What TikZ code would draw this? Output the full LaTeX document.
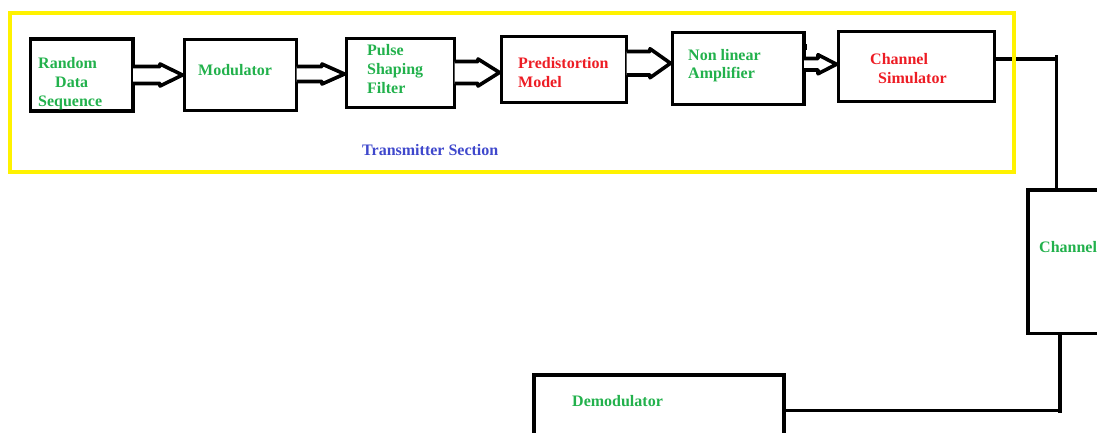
\documentclass[tikz,border=0pt]{standalone}
\usepackage{fontspec}
\setmainfont{Liberation Serif}
\usetikzlibrary{calc}
\definecolor{pgreen}{HTML}{22B14C}
\definecolor{pred}{HTML}{ED1C24}
\definecolor{pblue}{HTML}{3F48CC}
\definecolor{pyellow}{HTML}{FFF200}
\tikzset{
  blk/.style={draw=black, line width=3.6pt, inner sep=0pt, outer sep=0pt},
  lbl/.style={inner sep=0pt, anchor=base west, font=\fontsize{16}{19}\selectfont\bfseries},
  farrow/.style={draw=black, line width=3.6pt, line join=round, fill=white},
  wire/.style={draw=black, line width=3.6pt},
  frame/.style={draw=pyellow, line width=4pt}
}
% #1 from node, #2 to node, #3 centre y, #4 shaft half height, #5 head half height, #6 head base x
\newcommand{\fatarrow}[6]{%
  \draw[farrow] let \p1=(#1.east), \p2=(#2.west) in
    (\x1,{-(#3)+(#4)}) -- (#6,{-(#3)+(#4)}) -- (#6,{-(#3)+(#5)})
    -- (\x2-2pt,{-(#3)}) -- (#6,{-(#3)-(#5)}) -- (#6,{-(#3)-(#4)}) -- (\x1,{-(#3)-(#4)});}
\begin{document}
\begin{tikzpicture}[x=1pt,y=1pt]
\useasboundingbox (0,0) rectangle (1097,-432);
\clip (0,0) rectangle (1097,-432);

% blocks
\node[blk, minimum width=102.5pt, minimum height=72pt] (rds) at (81.75,-75) {};
\node[blk, minimum width=112pt, minimum height=71pt] (mod) at (240.5,-75) {};
\node[blk, minimum width=108pt, minimum height=69pt] (psf) at (400.5,-73) {};
\node[blk, minimum width=125pt, minimum height=66pt] (pdm) at (564,-69.5) {};
\node[blk, minimum width=131.5pt, minimum height=72pt] (nla) at (738.25,-68.5) {};
\node[blk, minimum width=156pt, minimum height=70pt] (chs) at (916.5,-66.5) {};
\node[blk, minimum width=112pt, minimum height=143.5pt] (ch) at (1084,-261.75) {};
\node[blk, minimum width=250pt, minimum height=95pt] (dem) at (659,-422.5) {};

% small stray stroke at the amplifier's corner
\draw[line width=2pt] (806,-44) -- (806,-50);

% labels
\node[lbl, text=pgreen] (t1a) at (38,-68) {Random};
\node[lbl, text=pgreen] (t1b) at (55,-87) {Data};
\node[lbl, text=pgreen] (t1c) at (38,-106) {Sequence};
\node[lbl, text=pgreen] (t2) at (198,-75) {Modulator};
\node[lbl, text=pgreen] (t3a) at (367,-55) {Pulse};
\node[lbl, text=pgreen] (t3b) at (367,-74) {Shaping};
\node[lbl, text=pgreen] (t3c) at (367,-93) {Filter};
\node[lbl, text=pred] (t4a) at (518,-68) {Predistortion};
\node[lbl, text=pred] (t4b) at (518,-87) {Model};
\node[lbl, text=pgreen] (t5a) at (688,-60) {Non linear};
\node[lbl, text=pgreen] (t5b) at (688,-78) {Amplifier};
\node[lbl, text=pred] (t6a) at (870,-64) {Channel};
\node[lbl, text=pred] (t6b) at (878,-83) {Simulator};
\node[lbl, text=pblue] (tx) at (362,-155) {Transmitter Section};
\node[lbl, text=pgreen] (t7) at (1039,-252) {Channel};
\node[lbl, text=pgreen] (t8) at (572,-406) {Demodulator};

% hollow block arrows
\fatarrow{rds}{mod}{75}{8.5}{11}{160}
\fatarrow{mod}{psf}{74}{7.5}{10}{322}
\fatarrow{psf}{pdm}{72.5}{11}{13.5}{478}
\fatarrow{pdm}{nla}{63.25}{11.75}{14.5}{650}
\fatarrow{nla}{chs}{64.25}{5.75}{9.5}{818}

% wires
\coordinate (c1) at (1056.5,-59);
\coordinate (c1t) at (1056.5,-55);
\draw[wire] (chs.east |- c1) -- (c1);
\draw[wire] (c1t) -- (ch.north -| c1);
\coordinate (c2) at (1060,-410.5);
\coordinate (c2b) at (1060,-413);
\draw[wire] (ch.south -| c2) -- (c2b);
\draw[wire] (dem.east |- c2) -- (c2);

% transmitter frame
\node[frame, inner sep=0pt, outer sep=0pt, minimum width=1004pt, minimum height=159pt] (txf) at (512,-92) {};
\end{tikzpicture}
\end{document}
